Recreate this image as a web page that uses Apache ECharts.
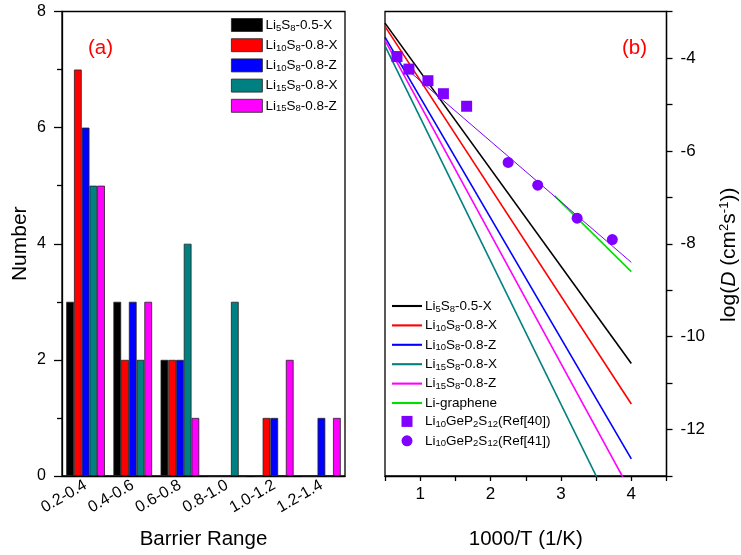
<!DOCTYPE html>
<html>
<head>
<meta charset="utf-8">
<title>Barrier / diffusion</title>
<script src="https://cdn.jsdelivr.net/npm/echarts@6/dist/echarts.min.js"></script>
<style>
  html, body { margin: 0; padding: 0; background: #fff; }
  #chart { width: 741px; height: 555px; }
</style>
</head>
<body>
<div id="chart"></div>
<script>
// panel (a): barrier histogram
var categories = ['0.2-0.4', '0.4-0.6', '0.6-0.8', '0.8-1.0', '1.0-1.2', '1.2-1.4'];
var barNames = ['Li5S8-0.5-X', 'Li10S8-0.8-X', 'Li10S8-0.8-Z', 'Li15S8-0.8-X', 'Li15S8-0.8-Z'];
var countLi5X = [3, 3, 2, 0, 0, 0];
var countLi10X = [7, 2, 2, 0, 1, 0];
var countLi10Z = [6, 3, 2, 0, 1, 1];
var countLi15X = [5, 2, 4, 3, 0, 0];
var countLi15Z = [5, 3, 1, 0, 2, 1];
var barCounts = [countLi5X, countLi10X, countLi10Z, countLi15X, countLi15Z];
var colors = ['#000000', '#ff0000', '#0000ff', '#008080', '#ff00ff'];

// panel (b): log(D) vs 1000/T
var lineX = [0.5, 4];
var logDLi5X = [-3.25, -10.58];
var logDLi10X = [-3.32, -11.45];
var logDLi10Z = [-3.55, -12.63];
var logDLi15X = [-3.74, -14.54];
var logDLi15Z = [-3.62, -13.36];
var lineLogD = [logDLi5X, logDLi10X, logDLi10Z, logDLi15X, logDLi15Z];
var grapheneX = [2.91, 4.0];
var grapheneLogD = [-6.97, -8.6];
var ref40X = [0.67, 0.84, 1.11, 1.33, 1.66];
var ref40LogD = [-3.97, -4.24, -4.49, -4.77, -5.04];
var ref41X = [2.25, 2.67, 3.23, 3.73];
var ref41LogD = [-6.25, -6.74, -7.45, -7.91];
var lgpsFitX = [0.67, 4.0];
var lgpsFitLogD = [-4.06, -8.4];

var purple = '#7f00ff';
var font = 'Liberation Sans, Arial, sans-serif';
var lineIcon = 'path://M0,0H20V1.4H0Z';

function zip(xs, ys) {
    return xs.map(function (x, i) { return [x, ys[i]]; });
}

// "Li10S8-0.8-X" -> rich text with subscripts after letters
function subLabel(name) {
    name = name.replace(' (b)', '');
    var out = '';
    var re = /([A-Za-z])(\d+)/g, last = 0, m;
    while ((m = re.exec(name)) !== null) {
        out += '{n|' + name.slice(last, m.index + 1) + '}{s|' + m[2] + '}';
        last = m.index + m[0].length;
    }
    if (last < name.length) out += '{n|' + name.slice(last) + '}';
    return out;
}

var legendRich = {
    n: { fontSize: 13.5, lineHeight: 16, fontFamily: font, color: '#000' },
    s: { fontSize: 9.5, lineHeight: 9, verticalAlign: 'bottom', fontFamily: font, color: '#000' }
};

var series = [];
barNames.forEach(function (nm, i) {
    series.push({
        name: nm,
        type: 'bar',
        xAxisIndex: 0,
        yAxisIndex: 0,
        data: barCounts[i],
        barGap: '0%',
        barCategoryGap: '18%',
        itemStyle: { color: colors[i], borderColor: '#222', borderWidth: 0.8 }
    });
});
barNames.forEach(function (nm, i) {
    series.push({
        name: nm + ' (b)',
        type: 'line',
        xAxisIndex: 1,
        yAxisIndex: 1,
        symbol: 'none',
        data: zip(lineX, lineLogD[i]),
        lineStyle: { color: colors[i], width: 1.6 },
        itemStyle: { color: colors[i] },
        z: 3
    });
});
series.push({
    name: 'Li-graphene',
    type: 'line',
    xAxisIndex: 1,
    yAxisIndex: 1,
    symbol: 'none',
    data: zip(grapheneX, grapheneLogD),
    lineStyle: { color: '#00e000', width: 1.6 },
    itemStyle: { color: '#00e000' },
    z: 3
});
series.push({
    name: 'fit',
    type: 'line',
    xAxisIndex: 1,
    yAxisIndex: 1,
    symbol: 'none',
    data: zip(lgpsFitX, lgpsFitLogD),
    lineStyle: { color: purple, width: 1 },
    z: 3
});
series.push({
    name: 'Li10GeP2S12(Ref[40])',
    type: 'scatter',
    xAxisIndex: 1,
    yAxisIndex: 1,
    symbol: 'rect',
    symbolSize: 11,
    data: zip(ref40X, ref40LogD),
    itemStyle: { color: purple, opacity: 1 },
    z: 4
});
series.push({
    name: 'Li10GeP2S12(Ref[41])',
    type: 'scatter',
    xAxisIndex: 1,
    yAxisIndex: 1,
    symbol: 'circle',
    symbolSize: 11,
    data: zip(ref41X, ref41LogD),
    itemStyle: { color: purple, opacity: 1 },
    z: 4
});

var chart = echarts.init(document.getElementById('chart'), null, { renderer: 'canvas' });
var option = {
    animation: false,
    backgroundColor: '#fff',
    textStyle: { fontFamily: font },
    title: [
        { text: '(a)', left: 83, top: 33, textStyle: { color: '#ff0000', fontSize: 20.5, fontWeight: 'normal', fontFamily: font } },
        { text: '(b)', left: 617, top: 33, textStyle: { color: '#ff0000', fontSize: 20.5, fontWeight: 'normal', fontFamily: font } }
    ],
    grid: [
        { left: 62, top: 11.5, width: 283, height: 466, show: true, borderColor: '#000', borderWidth: 1.3, backgroundColor: 'transparent' },
        { left: 385, top: 11.5, width: 283, height: 466, show: true, borderColor: '#000', borderWidth: 1.3, backgroundColor: 'transparent' }
    ],
    legend: [
        {
            data: barNames.map(function (n) { return { name: n, icon: 'rect' }; }),
            orient: 'vertical',
            left: 231,
            top: 18,
            padding: 0,
            itemWidth: 31,
            itemHeight: 13,
            itemGap: 5.2,
            selectedMode: false,
            formatter: subLabel,
            textStyle: { rich: legendRich, padding: [0, 0, 0, -2] },
            itemStyle: { borderColor: '#222', borderWidth: 0.8 }
        },
        {
            data: barNames.map(function (n) { return { name: n + ' (b)', icon: lineIcon }; })
                .concat([
                    { name: 'Li-graphene', icon: lineIcon },
                    { name: 'Li10GeP2S12(Ref[40])', icon: 'path://M0,0H10V10H0Z' },
                    { name: 'Li10GeP2S12(Ref[41])', icon: 'circle' }
                ]),
            orient: 'vertical',
            left: 392,
            top: 299,
            padding: 0,
            itemWidth: 30,
            itemHeight: 11,
            itemGap: 4.4,
            selectedMode: false,
            formatter: subLabel,
            textStyle: { rich: legendRich, padding: [0, 0, 0, -2] }
        }
    ],
    xAxis: [
        {
            type: 'category',
            gridIndex: 0,
            data: categories,
            axisLine: { lineStyle: { color: '#000', width: 1.3 } },
            axisTick: { show: false },
            axisLabel: { rotate: 30, color: '#000', fontSize: 16, margin: 8, fontFamily: font },
            name: 'Barrier Range',
            nameLocation: 'middle',
            nameGap: 53,
            nameTextStyle: { color: '#000', fontSize: 20.5, fontFamily: font }
        },
        {
            type: 'value',
            gridIndex: 1,
            min: 0.5,
            max: 4.5,
            interval: 0.5,
            splitLine: { show: false },
            axisLine: { onZero: false, lineStyle: { color: '#000', width: 1.3 } },
            axisTick: { length: 5, lineStyle: { color: '#000', width: 1.3 } },
            axisLabel: {
                color: '#000', fontSize: 17, margin: 10, fontFamily: font,
                formatter: function (v) { return Math.abs(v - Math.round(v)) < 1e-6 && v > 0.6 && v < 4.4 ? String(Math.round(v)) : ''; }
            },
            name: '1000/T (1/K)',
            nameLocation: 'middle',
            nameGap: 53,
            nameTextStyle: { color: '#000', fontSize: 20.5, fontFamily: font }
        }
    ],
    yAxis: [
        {
            type: 'value',
            gridIndex: 0,
            min: 0,
            max: 8,
            interval: 2,
            splitLine: { show: false },
            axisLine: { show: true, lineStyle: { color: '#000', width: 1.3 } },
            axisTick: { show: true, length: 8, lineStyle: { color: '#000', width: 1.3 } },
            minorTick: { show: true, splitNumber: 2, length: 5, lineStyle: { color: '#000', width: 1.3 } },
            axisLabel: { color: '#000', fontSize: 16, margin: 16, fontFamily: font },
            name: 'Number',
            nameLocation: 'middle',
            nameGap: 31,
            nameTextStyle: { color: '#000', fontSize: 21, fontFamily: font }
        },
        {
            type: 'value',
            gridIndex: 1,
            position: 'right',
            min: -13,
            max: -3,
            interval: 1,
            splitLine: { show: false },
            axisLine: { show: true, onZero: false, lineStyle: { color: '#000', width: 1.3 } },
            axisTick: { show: true, length: 6, lineStyle: { color: '#000', width: 1.3 } },
            axisLabel: {
                color: '#000', fontSize: 17, margin: 14, fontFamily: font,
                formatter: function (v) { return v % 2 === 0 ? String(v) : ''; }
            },
            name: '{n|log(}{i|D}{n| (cm}{p|2}{n|s}{p|-1}{n|))}',
            nameLocation: 'middle',
            nameRotate: 90,
            nameGap: 51,
            nameTextStyle: {
                padding: [0, 22, 0, 0],
                rich: {
                    n: { fontSize: 21, lineHeight: 24, color: '#000', fontFamily: font },
                    i: { fontSize: 21, lineHeight: 24, color: '#000', fontStyle: 'italic', fontFamily: font },
                    p: { fontSize: 13, lineHeight: 13, verticalAlign: 'top', color: '#000', fontFamily: font }
                }
            }
        }
    ],
    series: series
};
chart.setOption(option);
</script>
</body>
</html>
